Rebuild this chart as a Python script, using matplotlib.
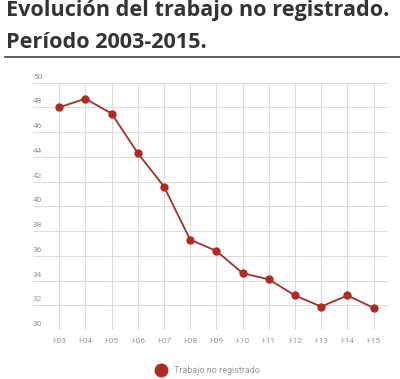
import matplotlib.pyplot as plt
import matplotlib.transforms as mtransforms

years = ['I-03', 'I-04', 'I-05', 'I-06', 'I-07', 'I-08', 'I-09',
         'I-10', 'I-11', 'I-12', 'I-13', 'I-14', 'I-15']
valores = [48.0, 48.7, 47.5, 44.3, 41.6, 37.3, 36.4, 34.6, 34.1, 32.8, 31.9, 32.8, 31.8]
yticks = [30, 32, 34, 36, 38, 40, 42, 44, 46, 48, 50]

fig = plt.figure(figsize=(4.0, 3.79), dpi=100)
ax = fig.add_axes([0.0825, 0.129, 0.8875, 0.653])

x = list(range(len(years)))
ax.plot(x, valores, color='#a3302c', lw=1.3, marker='o', ms=5,
        markerfacecolor='#b02a25', markeredgecolor='#b02a25', label='Trabajo no registrado', zorder=3)

ax.set_xlim(-1.0, 12.55)
ax.set_ylim(30, 50)
for v in yticks:
    ax.axhline(v, color='#dcdcdc', lw=0.8, zorder=1)
for i in x:
    ax.axvline(i, color='#dcdcdc', lw=0.8, zorder=1)
ax.set_xticks(x)
ax.set_xticklabels(years, fontsize=6, color='#999999', family='Roboto')
ax.tick_params(axis='x', length=0, pad=6)
ax.set_yticks([])
for s in ax.spines.values():
    s.set_visible(False)

trans = mtransforms.blended_transform_factory(ax.transAxes, ax.transData)
for v in yticks:
    ax.text(0.0, v + 0.25, str(v), transform=trans, ha='left', va='bottom',
            fontsize=6, color='#999999', family='Roboto')

fig.text(0.015, 0.972, 'Evolución del trabajo no registrado.', fontsize=15.6, fontweight='bold',
         color='#333333', family='Open Sans', ha='left', va='center')
fig.text(0.015, 0.887, 'Período 2003-2015.', fontsize=15.6, fontweight='bold',
         color='#333333', family='Open Sans', ha='left', va='center')
fig.add_artist(plt.Line2D([0.0125, 1.0], [0.85, 0.85], color='#444444', lw=1.2))

fig.legend(loc='center', bbox_to_anchor=(0.52, 0.022), frameon=False,
           labelcolor='#999999', handlelength=1.2, prop={'family': 'Roboto', 'size': 6.5})
leg = fig.legends[0]
for h in leg.legend_handles:
    h.set_linestyle('none')
    h.set_markersize(9)

fig.savefig('out.png', dpi=100)
